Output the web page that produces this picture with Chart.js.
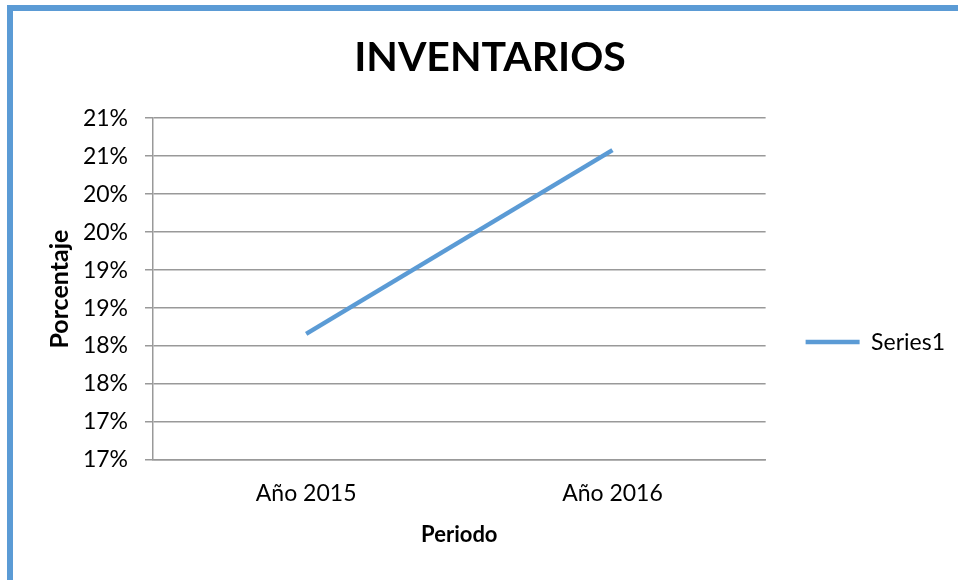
<!DOCTYPE html>
<html>
<head>
<meta charset="utf-8">
<script src="https://cdn.jsdelivr.net/npm/chart.js@4/dist/chart.umd.min.js"></script>
<style>
  body { margin: 0; background: #fff; }
  #wrap { position: relative; width: 958px; height: 580px; overflow: hidden; }
  #frame {
    position: absolute; left: 7px; top: 5px; width: 1000px; height: 700px;
    border-left: 6px solid #5b9bd5; border-top: 6px solid #5b9bd5;
  }
  canvas { position: absolute; left: 0; top: 0; }
</style>
</head>
<body>
<div id="wrap">
  <div id="frame"></div>
  <canvas id="invChart" width="958" height="580"></canvas>
</div>
<script>
// data (percent)
const periodos = ['Año 2015', 'Año 2016'];
const series1 = [18.16, 20.58];
const yMin = 16.5;
const yMax = 21;
const yStep = 0.5;

Chart.defaults.font.family = 'Lato';
Chart.defaults.color = '#000';

const ctx = document.getElementById('invChart').getContext('2d');
const invChart = new Chart(ctx, {
    type: 'line',
    data: {
        labels: periodos,
        datasets: [{
            label: 'Series1',
            data: series1,
            borderColor: '#5b9bd5',
            backgroundColor: '#5b9bd5',
            borderWidth: 4.5,
            pointRadius: 0,
            tension: 0
        }]
    },
    options: {
        responsive: false,
        animation: false,
        layout: {
            padding: { left: 25, right: 3, top: 0, bottom: 28 }
        },
        plugins: {
            title: {
                display: true,
                text: 'INVENTARIOS',
                font: { size: 41, weight: 'bold' },
                padding: { top: 33, bottom: 36 }
            },
            legend: {
                position: 'right',
                fullSize: false,
                title: {
                    display: true,
                    text: ' ',
                    font: { size: 10 },
                    padding: { top: 94, bottom: 0 }
                },
                labels: {
                    usePointStyle: true,
                    pointStyle: 'line',
                    pointStyleWidth: 54,
                    padding: 40,
                    font: { size: 23 }
                }
            },
            tooltip: { enabled: false }
        },
        scales: {
            x: {
                offset: true,
                grid: { display: false, drawTicks: false },
                border: { color: '#999', width: 1.5 },
                ticks: { padding: 20, font: { size: 23 } },
                title: {
                    display: true,
                    text: 'Periodo',
                    font: { size: 22, weight: 'bold' },
                    padding: { top: 15, bottom: 4 }
                },
                afterFit: function (scale) {
                    scale.height = 92; // plot bottom at y=460
                }
            },
            y: {
                min: yMin,
                max: yMax,
                grid: { color: '#999', lineWidth: 1.5, tickLength: 8 },
                border: { color: '#999', width: 1.5 },
                ticks: {
                    stepSize: yStep,
                    padding: 17,
                    font: { size: 23 },
                    callback: function (value) {
                        return Math.round(value) + '%';
                    }
                },
                title: {
                    display: true,
                    text: 'Porcentaje',
                    font: { size: 25, weight: 'bold' },
                    padding: { top: 20, bottom: 0 }
                },
                afterFit: function (scale) {
                    scale.width = 128; // axis line at x=153
                }
            }
        }
    }
});
</script>
</body>
</html>
